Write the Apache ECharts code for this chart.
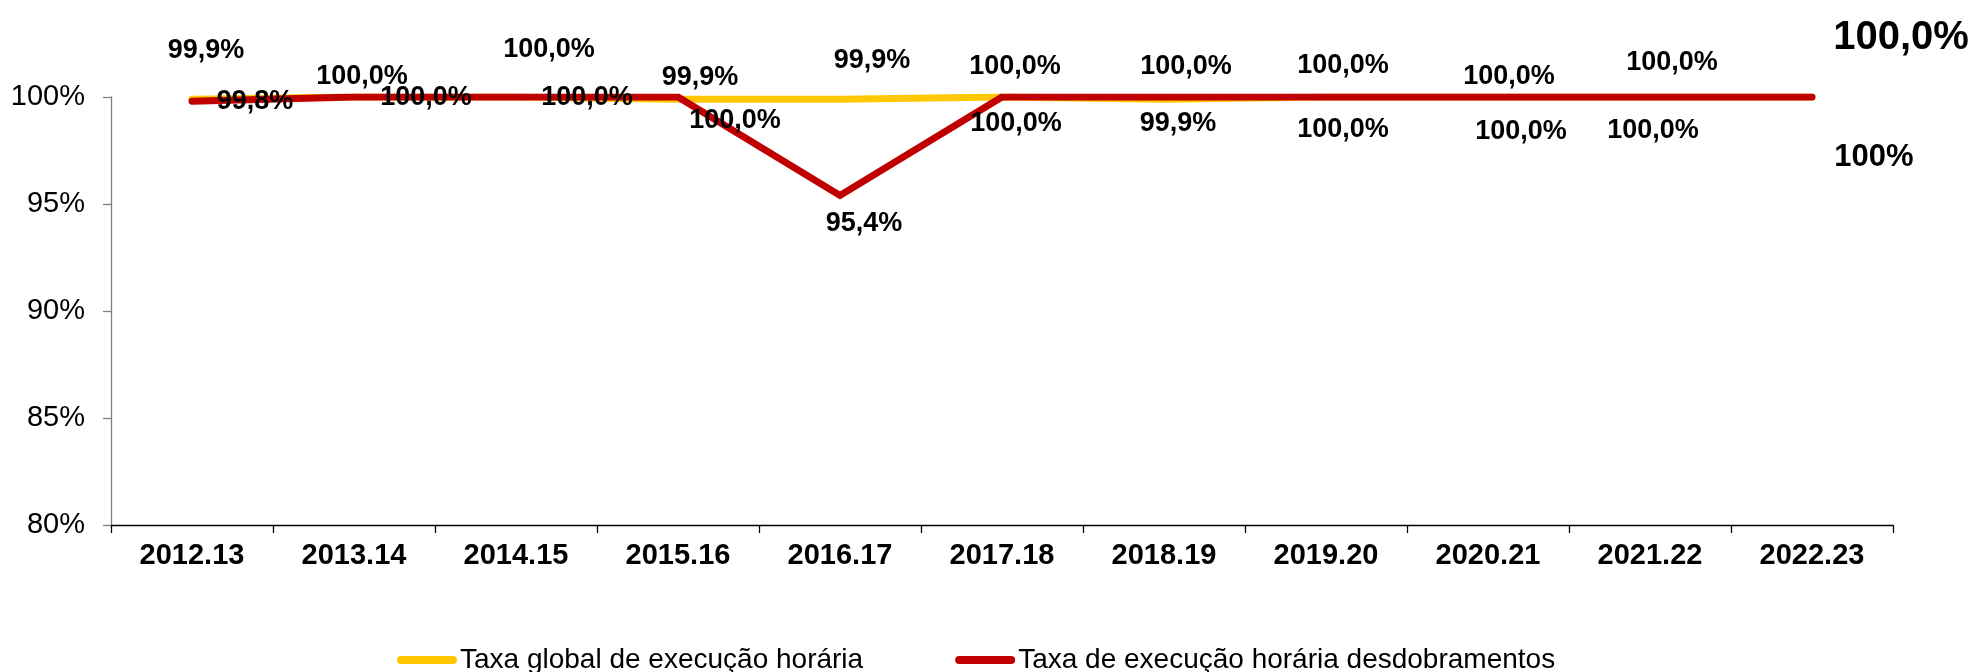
<!DOCTYPE html>
<html>
<head>
<meta charset="utf-8">
<script src="https://cdn.jsdelivr.net/npm/echarts@6/dist/echarts.min.js"></script>
<style>
  html, body { margin: 0; padding: 0; background: #ffffff; }
  #chart { width: 1977px; height: 672px; }
</style>
</head>
<body>
<div id="chart"></div>
<script>
// ---- data ----
const categories = ['2012.13', '2013.14', '2014.15', '2015.16', '2016.17', '2017.18',
                    '2018.19', '2019.20', '2020.21', '2021.22', '2022.23'];
const globalRate = [99.9, 100.0, 100.0, 99.9, 99.9, 100.0, 99.9, 100.0, 100.0, 100.0, 100.0];
const splitRate  = [99.8, 100.0, 100.0, 100.0, 95.4, 100.0, 100.0, 100.0, 100.0, 100.0, 100.0];
const seriesNames = ['Taxa global de execução horária', 'Taxa de execução horária desdobramentos'];
const yMin = 80, yMax = 100, yStep = 5;

// ---- label layout (manual placement, as in the original) ----
const globalLabelOffsets = [[14, -49], [8, -20], [33, -47], [22, -22], [32, -39], [13, -30],
                            [14, 24], [17, -31], [21, -20], [22, -34], [89, -59]];
const splitLabelOffsets  = [[63, 0], [72, 1], [71, 1], [57, 24], [24, 28], [14, 27],
                            [22, -30], [17, 33], [33, 35], [3, 34], [62, 60]];
const FONT = "'Liberation Sans', Arial, sans-serif";

function fmt(v, decimals) {
  return v.toFixed(decimals).replace('.', ',') + '%';
}

function buildData(values, offsets, lastStyle) {
  return values.map((v, i) => {
    const last = i === values.length - 1;
    return {
      value: v,
      label: {
        offset: offsets[i],
        fontSize: last ? lastStyle.fontSize : 27,
        formatter: fmt(v, last ? lastStyle.decimals : 1)
      }
    };
  });
}

const chart = echarts.init(document.getElementById('chart'), null, { renderer: 'canvas' });

const labelBase = {
  show: true,
  position: 'inside',
  color: '#000000',
  fontFamily: FONT,
  fontWeight: 'bold',
  fontSize: 27,
  align: 'center',
  verticalAlign: 'middle'
};

chart.setOption({
  animation: false,
  backgroundColor: '#ffffff',
  grid: { left: 111, right: 84, top: 97, bottom: 147, containLabel: false },
  xAxis: {
    type: 'category',
    data: categories,
    boundaryGap: true,
    axisLine: { show: true, lineStyle: { color: '#000000', width: 1.3 } },
    axisTick: { show: true, length: 8, alignWithLabel: false, lineStyle: { color: '#000000', width: 1.3 } },
    axisLabel: { color: '#000000', fontFamily: FONT, fontWeight: 'bold', fontSize: 29, margin: 16 },
    splitLine: { show: false }
  },
  yAxis: {
    type: 'value',
    min: yMin, max: yMax, interval: yStep,
    axisLine: { show: true, lineStyle: { color: '#808080', width: 1.3 } },
    axisTick: { show: true, length: 8, lineStyle: { color: '#808080', width: 1.3 } },
    axisLabel: { color: '#000000', fontFamily: FONT, fontSize: 29, margin: 26, formatter: '{value}%' },
    splitLine: { show: false }
  },
  legend: {
    left: 392,
    top: 641,
    itemWidth: 60,
    itemHeight: 9,
    itemGap: 92,
    textStyle: { color: '#000000', fontFamily: FONT, fontSize: 28, padding: [0, 0, 0, -2] },
    data: [
      { name: seriesNames[0], icon: 'path://M4,0 L56,0 A4,4 0 0 1 56,8 L4,8 A4,4 0 0 1 4,0 Z' },
      { name: seriesNames[1], icon: 'path://M4,0 L56,0 A4,4 0 0 1 56,8 L4,8 A4,4 0 0 1 4,0 Z' }
    ]
  },
  series: [
    {
      name: seriesNames[0],
      type: 'line',
      data: buildData(globalRate, globalLabelOffsets, { fontSize: 40, decimals: 1 }),
      symbol: 'circle', symbolSize: 2, showSymbol: true, showAllSymbol: true,
      itemStyle: { color: '#FFC800' },
      lineStyle: { color: '#FFC800', width: 7, cap: 'round', join: 'round' },
      label: labelBase,
      z: 2
    },
    {
      name: seriesNames[1],
      type: 'line',
      data: buildData(splitRate, splitLabelOffsets, { fontSize: 31, decimals: 0 }),
      symbol: 'circle', symbolSize: 2, showSymbol: true, showAllSymbol: true,
      itemStyle: { color: '#C00000' },
      lineStyle: { color: '#C00000', width: 7, cap: 'round', join: 'miter' },
      label: labelBase,
      z: 3
    }
  ]
});
</script>
</body>
</html>
